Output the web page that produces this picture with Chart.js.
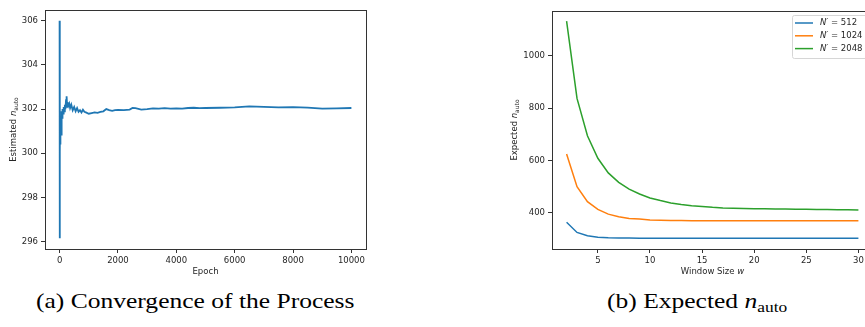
<!DOCTYPE html>
<html>
<head>
<meta charset="utf-8">
<script src="https://cdn.jsdelivr.net/npm/chart.js@4.4.1/dist/chart.umd.min.js"></script>
<style>
    html, body { margin: 0; padding: 0; background: #fff; }
    body { width: 865px; height: 327px; overflow: hidden; position: relative; }
    .panel { position: absolute; top: 0; height: 280px; }
    .caption {
        position: absolute; top: 288px; white-space: nowrap;
        font-family: "Liberation Serif", "DejaVu Serif", serif; font-size: 22px; color: #000;
        transform: scaleX(1.16); transform-origin: left top;
    }
    .caption sub { font-size: 15px; vertical-align: -4px; }
</style>
</head>
<body>
<div class="panel" style="left:0; width:380px;"><canvas id="convChart"></canvas></div>
<div class="panel" style="left:480px; width:400px;"><canvas id="expectedChart"></canvas></div>
<div class="caption" id="capA" style="left:36px;">(a) Convergence of the Process</div>
<div class="caption" id="capB" style="left:607px;">(b) Expected <i>n</i><sub>auto</sub></div>

<script>
// (a) running estimate over epochs
const epochs = [0, 2, 5, 8, 12, 16, 20, 25, 30, 40, 50, 60, 70, 80, 90, 100, 120, 140, 160, 180,
    200, 220, 240, 260, 280, 300, 330, 360, 400, 450, 500, 550, 600, 650, 700, 750, 800, 850, 900,
    1000, 1100, 1200, 1300, 1400, 1500, 1600, 1700, 1800, 1900, 2000, 2200, 2400, 2500, 2600, 2800,
    3000, 3200, 3400, 3600, 3800, 4000, 4200, 4400, 4600, 4800, 5000, 5500, 6000, 6500, 7000, 7500,
    8000, 8500, 9000, 9500, 10000];
const estimated = [306.0, 298.5, 296.15, 299.5, 300.0, 301.6, 300.4, 301.2, 301.7, 300.9, 301.5,
    300.8, 301.3, 301.9, 301.6, 302.0, 301.8, 302.1, 301.9, 302.2, 302.0, 302.4, 302.58, 302.1, 302.3,
    302.15, 302.25, 302.05, 302.2, 301.95, 302.1, 301.9, 302.05, 301.88, 301.95, 301.85, 301.97,
    301.88, 301.85, 301.79, 301.82, 301.85, 301.83, 301.87, 301.9, 302.0, 301.95, 301.92, 301.95,
    301.96, 301.95, 301.98, 302.05, 302.04, 301.98, 302.0, 302.03, 302.02, 302.04, 302.02, 302.03,
    302.02, 302.05, 302.06, 302.04, 302.05, 302.06, 302.08, 302.12, 302.1, 302.08, 302.09, 302.07,
    302.02, 302.03, 302.05];
const epochTicks = [0, 2000, 4000, 6000, 8000, 10000];
const estimatedTicks = [296, 298, 300, 302, 304, 306];

// (b) expected value against window size
const windowSizes = [2, 3, 4, 5, 6, 7, 8, 9, 10, 11, 12, 13, 14, 15, 16, 17, 18, 19, 20,
    21, 22, 23, 24, 25, 26, 27, 28, 29, 30];
const n512 = [363, 324, 311, 306, 304, 303, 302.5, 302, 302, 302, 302, 302, 302, 302, 302, 302,
    302, 302, 302, 302, 302, 302, 302, 302, 302, 302, 302, 302, 302];
const n1024 = [624, 499, 442, 412, 394, 384, 377, 375, 372, 371, 370, 370, 369, 369, 369, 369,
    369, 369, 369, 369, 369, 369, 369, 369, 369, 369, 369, 369, 369];
const n2048 = [1133, 837, 694, 608, 552, 516, 490, 471, 456, 446, 437, 431, 426, 423, 420, 418,
    417, 416, 415, 415, 414, 414, 413, 413, 412, 412, 411, 411, 410];
const seriesNames = ["512", "1024", "2048"];
const windowTicks = [5, 10, 15, 20, 25, 30];
const expectedTicks = [400, 600, 800, 1000];

const COLORS = ["#1f77b4", "#ff7f0e", "#2ca02c"];
const FONT = "DejaVu Sans";
const INK = "#262626";

Chart.defaults.font.family = FONT;
Chart.defaults.font.size = 8.5;
Chart.defaults.color = INK;

function points(xs, ys) {
    return xs.map((x, i) => ({ x: x, y: ys[i] }));
}

// draws a list of text pieces (plain / italic / subscript) centred on x,y
function drawRich(ctx, parts, x, y, angle) {
    ctx.save();
    ctx.translate(x, y);
    ctx.rotate(angle || 0);
    ctx.textBaseline = "middle";
    ctx.textAlign = "left";
    let total = 0;
    parts.forEach((p) => {
        ctx.font = p.font;
        total += ctx.measureText(p.text).width;
    });
    let cx = -total / 2;
    parts.forEach((p) => {
        ctx.font = p.font;
        ctx.fillStyle = INK;
        ctx.fillText(p.text, cx, p.dy || 0);
        cx += ctx.measureText(p.text).width;
    });
    ctx.restore();
}

const plain = (t) => ({ text: t, font: "8.5px " + FONT });
const ital = (t) => ({ text: t, font: "italic 8.5px " + FONT });
const sub = (t) => ({ text: t, font: "6px " + FONT, dy: 2.5 });

function framePlugin(xTitle, yTitle, yTitleX, legend) {
    return {
        id: "frame",
        afterDraw(chart) {
            const ctx = chart.ctx;
            const a = chart.chartArea;
            ctx.save();
            ctx.strokeStyle = "#333";
            ctx.lineWidth = 1;
            ctx.strokeRect(Math.round(a.left) + 0.5, Math.round(a.top) + 0.5,
                Math.round(a.right - a.left), Math.round(a.bottom - a.top));
            ctx.restore();

            drawRich(ctx, xTitle, (a.left + a.right) / 2, a.bottom + 23);
            drawRich(ctx, yTitle, yTitleX, (a.top + a.bottom) / 2, -Math.PI / 2);

            if (legend) {
                const bx = a.right - 81, by = a.top + 4, bw = 77, bh = 43;
                ctx.save();
                ctx.fillStyle = "rgba(255,255,255,0.8)";
                ctx.strokeStyle = "#d6d6d6";
                ctx.lineWidth = 1;
                ctx.beginPath();
                ctx.roundRect(bx + 0.5, by + 0.5, bw, bh, 2);
                ctx.fill();
                ctx.stroke();
                chart.data.datasets.forEach((ds, i) => {
                    const ly = by + 8 + i * 12.8;
                    ctx.strokeStyle = ds.borderColor;
                    ctx.lineWidth = 1.5;
                    ctx.beginPath();
                    ctx.moveTo(bx + 3, ly);
                    ctx.lineTo(bx + 21, ly);
                    ctx.stroke();
                    const parts = [ital("N\u2032"), plain(" = " + seriesNames[i])];
                    ctx.textBaseline = "middle";
                    let cx = bx + 28;
                    parts.forEach((p) => {
                        ctx.font = p.font;
                        ctx.fillStyle = INK;
                        ctx.fillText(p.text, cx, ly);
                        cx += ctx.measureText(p.text).width;
                    });
                });
                ctx.restore();
            }
        },
    };
}

function axis(min, max, ticks, fitKey, fitValue) {
    return {
        type: "linear",
        min: min,
        max: max,
        afterBuildTicks: (scale) => {
            scale.ticks = ticks.map((v) => ({ value: v }));
        },
        afterFit: (scale) => {
            scale[fitKey] = fitValue;
        },
        ticks: { padding: 3, color: INK, font: { size: 8.5 }, callback: (v) => String(v) },
        grid: { display: true, drawOnChartArea: false, drawTicks: true, tickLength: 4, color: "#333" },
        border: { display: false },
    };
}

function lineSet(xs, ys, color, width) {
    return {
        data: points(xs, ys),
        borderColor: color,
        backgroundColor: color,
        borderWidth: width,
        pointRadius: 0,
        tension: 0,
    };
}

new Chart(document.getElementById("convChart"), {
    type: "line",
    data: { datasets: [lineSet(epochs, estimated, COLORS[0], 1.8)] },
    options: {
        responsive: true,
        maintainAspectRatio: false,
        animation: false,
        layout: { padding: { left: 0, top: 10, right: 14, bottom: 0 } },
        scales: {
            x: axis(-500, 10500, epochTicks, "height", 31),
            y: axis(295.66, 306.49, estimatedTicks, "width", 45),
        },
        plugins: { legend: { display: false }, tooltip: { enabled: false } },
    },
    plugins: [framePlugin([plain("Epoch")], [plain("Estimated "), ital("n"), sub("auto")], 14)],
});

new Chart(document.getElementById("expectedChart"), {
    type: "line",
    data: {
        datasets: [
            lineSet(windowSizes, n512, COLORS[0], 1.5),
            lineSet(windowSizes, n1024, COLORS[1], 1.5),
            lineSet(windowSizes, n2048, COLORS[2], 1.5),
        ],
    },
    options: {
        responsive: true,
        maintainAspectRatio: false,
        animation: false,
        layout: { padding: { left: 0, top: 11, right: 7, bottom: 0 } },
        scales: {
            x: axis(0.6, 31.4, windowTicks, "height", 31),
            y: axis(260.6, 1171.7, expectedTicks, "width", 72),
        },
        plugins: { legend: { display: false }, tooltip: { enabled: false } },
    },
    plugins: [framePlugin([plain("Window Size "), ital("w")], [plain("Expected "), ital("n"), sub("auto")], 35, true)],
});
</script>
</body>
</html>
